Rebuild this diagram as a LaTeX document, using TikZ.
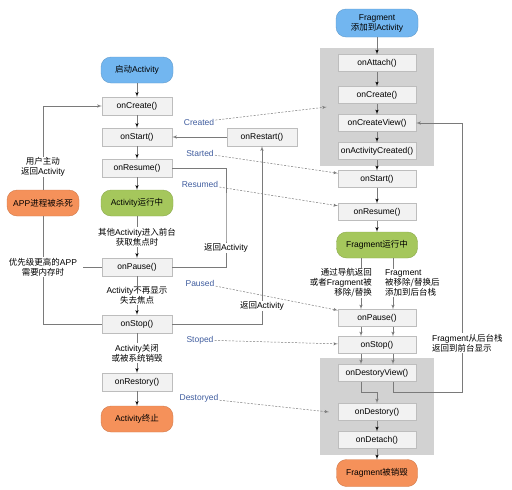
\documentclass[tikz,border=0pt]{standalone}
\usepackage{fontspec}
\setmainfont{Liberation Sans}
\newfontfamily\cjk{Noto Sans CJK SC}
\newcommand\zh[1]{{\cjk #1}}
\usetikzlibrary{arrows}
\usetikzlibrary{fit,backgrounds}
\definecolor{fnfill}{HTML}{F2F2F2}
\definecolor{fnline}{HTML}{BDBDBD}
\definecolor{zonegray}{HTML}{D2D2D2}
\definecolor{flowgray}{HTML}{7A7A7A}
\definecolor{hookblue}{HTML}{3F5C9E}
\definecolor{actblue}{HTML}{72B6F0}
\definecolor{actgreen}{HTML}{A5C75C}
\definecolor{actorange}{HTML}{F5915A}
\tikzstyle{fn}=[draw=fnline, fill=fnfill, minimum width=70pt, minimum height=18pt, inner sep=1pt, font=\fontsize{8.5}{10}\selectfont]
\tikzstyle{ffn}=[fn, minimum width=78pt, minimum height=17pt]
\tikzstyle{rnd}=[rounded corners=10pt, minimum width=72pt, minimum height=26pt, inner sep=1pt, align=center, font=\fontsize{8.5}{10}\selectfont]
\tikzstyle{blue}=[rnd, fill=actblue, draw=actblue!85!black]
\tikzstyle{green}=[rnd, fill=actgreen, draw=actgreen!85!black]
\tikzstyle{orange}=[rnd, fill=actorange, draw=actorange!85!black]
\tikzstyle{lbl}=[fill=white, text=black, inner sep=1pt, align=center, font=\fontsize{8.5}{10}\selectfont]
\tikzstyle{hook}=[text=hookblue, inner sep=1pt, font=\fontsize{8.5}{10}\selectfont]
\tikzstyle{zone}=[fill=zonegray, inner xsep=18pt, inner ysep=6pt]
\tikzstyle{flow}=[draw=flowgray, line width=0.6pt]
\tikzstyle{hookline}=[draw=flowgray, line width=0.5pt, dashed, dash pattern=on 2pt off 1.5pt]
\begin{document}
\begin{tikzpicture}[x=1pt,y=-1pt,node distance=31pt,>=latex']
    \useasboundingbox (0,0) rectangle (512,490);
    % Activity
    \node [blue] (start) at (137,70) {\zh{启动}Activity};
    \node [fn] (onCreate) [below of=start, node distance=36pt] {onCreate()};
    \node [fn] (onStart) [below of=onCreate] {onStart()};
    \node [fn] (onResume) [below of=onStart] {onResume()};
    \node [green] (running) [below of=onResume, node distance=35pt] {Activity\zh{运行中}};
    \node [fn] (onPause) [below of=running, node distance=64pt] {onPause()};
    \node [fn] (onStop) [below of=onPause, node distance=57pt] {onStop()};
    \node [fn] (onRestory) [below of=onStop, node distance=58pt] {onRestory()};
    \node [orange] (finish) [below of=onRestory, node distance=37pt] {Activity\zh{终止}};
    \node [orange] (killed) [left of=running, node distance=94pt] {APP\zh{进程被杀死}};
    \node [fn] (onRestart) [right of=onStart, node distance=125pt] {onRestart()};
    \path[flow,->] (start) edge (onCreate)
        (onCreate) edge (onStart)
        (onStart) edge (onResume)
        (onResume) edge (running)
        (running) edge node[lbl] {\zh{其他}Activity\zh{进入前台}\\\zh{获取焦点时}} (onPause)
        (onPause) edge node[lbl] {Activity\zh{不再显示}\\\zh{失去焦点}} (onStop)
        (onStop) edge node[lbl] {Activity\zh{关闭}\\\zh{或被系统销毁}} (onRestory)
        (onRestory) edge (finish);
    \draw[flow,->] (killed) |- (onCreate);
    \node [lbl] (userBack) [above of=killed, node distance=36pt] {\zh{用户主动}\\\zh{返回}Activity};
    \draw[flow] (killed) |- (onStop);
    \node [lbl] (lowMem) [below of=killed, node distance=64pt] {\zh{优先级更高的}APP\\\zh{需要内存时}};
    \draw[flow, shorten >=5pt] (onPause) -- (lowMem);
    \coordinate (backR) at (226,217);
    \draw[flow] (onPause) -| (backR) |- (onResume);
    \node [lbl] (backLbl) at (226,248) {\zh{返回}Activity};
    \draw[flow,->] (onRestart) -- (onStart);
    \draw[flow,->] (onStop) -| (onRestart);
    \node [lbl] (restartLbl) at (262,306) {\zh{返回}Activity};
    % Fragment
    \node [blue, minimum width=82pt, minimum height=28pt] (fadd) at (377,23) {Fragment\\\zh{添加到}Activity};
    \node [ffn] (fAttach) [below of=fadd, node distance=40pt] {onAttach()};
    \node [ffn] (fCreate) [below of=fAttach, node distance=32pt] {onCreate()};
    \node [ffn] (fCreateView) [below of=fCreate, node distance=28pt] {onCreateView()};
    \node [ffn] (fActCreated) [below of=fCreateView, node distance=28pt] {onActivityCreated()};
    \node [ffn] (fStart) [below of=fActCreated, node distance=28pt] {onStart()};
    \node [ffn] (fResume) [below of=fStart, node distance=33pt] {onResume()};
    \node [green, minimum width=81pt] (frunning) [below of=fResume, node distance=33pt] {Fragment\zh{运行中}};
    \node [ffn] (fPause) [below of=frunning, node distance=73pt] {onPause()};
    \node [ffn] (fStop) [below of=fPause, node distance=27pt] {onStop()};
    \node [ffn] (fDestroyView) [below of=fStop, node distance=28pt] {onDestoryView()};
    \node [ffn] (fDestroy) [below of=fDestroyView, node distance=39pt] {onDestory()};
    \node [ffn] (fDetach) [below of=fDestroy, node distance=28pt] {onDetach()};
    \node [orange, minimum width=81pt, minimum height=27pt] (fend) [below of=fDetach, node distance=33pt] {Fragment\zh{被销毁}};
    \begin{scope}[on background layer]
        \node [zone, fit=(fAttach)(fActCreated)] (zone1) {};
        \node [zone, fit=(fDestroyView)(fDetach)] (zone2) {};
    \end{scope}
    \path[flow,->] (fadd) edge (fAttach)
        (fAttach) edge (fCreate)
        (fCreate) edge (fCreateView)
        (fCreateView) edge (fActCreated)
        (fActCreated) edge (fStart)
        (fStart) edge (fResume)
        (fResume) edge (frunning)
        (fDestroy) edge (fDetach)
        (fDetach) edge (fend);
    \draw[flow,->] ([xshift=-16pt]frunning.south) -- ([xshift=-16pt]fPause.north);
    \draw[flow,->] ([xshift=16pt]frunning.south) -- ([xshift=16pt]fPause.north);
    \node [lbl, anchor=east, align=right] (navBack) at (373,283) {\zh{通过导航返回}\\\zh{或者}Fragment\zh{被}\\\zh{移除/替换}};
    \node [lbl, anchor=west, align=left] (toStack) at (384,283) {Fragment\\\zh{被移除/替换后}\\\zh{添加到后台栈}};
    \draw[flow,->] ([xshift=-16pt]fPause.south) -- ([xshift=-16pt]fStop.north);
    \draw[flow,->] ([xshift=16pt]fPause.south) -- ([xshift=16pt]fStop.north);
    \draw[flow,->] ([xshift=-16pt]fStop.south) -- ([xshift=-16pt]fDestroyView.north);
    \draw[flow,->] ([xshift=16pt]fStop.south) -- ([xshift=16pt]fDestroyView.north);
    \coordinate (joinL) at (377,392);
    \coordinate (joinR) at (462,392);
    \draw[flow,->] ([xshift=-16pt]fDestroyView.south) |- (joinL) -- (fDestroy);
    \draw[flow,->] ([xshift=16pt]fDestroyView.south) |- (joinR) |- (fCreateView);
    \node [lbl, anchor=west, align=left] (fromStack) at (431,343) {Fragment\zh{从后台栈}\\\zh{返回到前台显示}};
    % lifecycle hooks
    \node [hook] (hCreated) at (199,122) {Created};
    \node [hook] (hStarted) at (200,153) {Started};
    \node [hook] (hResumed) at (200,184) {Resumed};
    \node [hook] (hPaused) at (200,283) {Paused};
    \node [hook] (hStoped) at (200,340) {Stoped};
    \node [hook] (hDestoryed) at (199,398) {Destoryed};
    \coordinate (zone1in) at ([xshift=7pt]zone1.west);
    \coordinate (zone2in) at (329,412);
    \draw[hookline,->] (hCreated) -- (zone1in);
    \draw[hookline,->] (hStarted) -- (fStart);
    \draw[hookline,->] (hResumed) -- (fResume);
    \draw[hookline,->] (hPaused) -- (fPause);
    \draw[hookline,->] (hStoped) -- (fStop);
    \draw[hookline,->] (hDestoryed) -- (zone2in);
\end{tikzpicture}
\end{document}
